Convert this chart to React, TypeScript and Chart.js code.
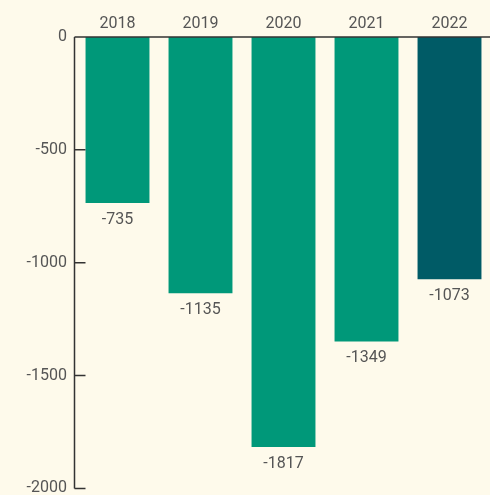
import React, { useEffect, useRef } from "react";
import { Chart, registerables } from "chart.js";

Chart.register(...registerables);

const categories = ["2018", "2019", "2020", "2021", "2022"];
const values = [-735, -1135, -1817, -1349, -1073];
const barColors = ["#009879", "#009879", "#009879", "#009879", "#005b66"];
const yTicks = [0, -500, -1000, -1500, -2000];

const BG = "#fefaeb";
const TEXT = "#555555";
const AXIS = "#333333";
const FONT = "Roboto, 'Liberation Sans', Arial, sans-serif";

export default function App() {
  const ref = useRef<HTMLCanvasElement | null>(null);
  useEffect(() => {
    document.body.style.margin = "0";
    document.body.style.background = BG;
    const canvas = ref.current!;
    const innerTicks = {
      id: "innerTicks",
      afterDatasetsDraw(chart: any) {
        const ctx = chart.ctx;
        const y = chart.scales.y;
        const area = chart.chartArea;
        ctx.save();
        const meta = chart.getDatasetMeta(0);
        ctx.font = `16px ${FONT}`;
        ctx.fillStyle = TEXT;
        ctx.textAlign = "center";
        ctx.textBaseline = "top";
        meta.data.forEach((bar: any, i: number) => {
          ctx.fillText(String(values[i]), bar.x, bar.y + 9);
        });
        const ax = area.left - 1.5;
        ctx.strokeStyle = AXIS;
        ctx.lineWidth = 1.5;
        ctx.beginPath();
        ctx.moveTo(ax, area.top);
        ctx.lineTo(ax, area.bottom);
        ctx.moveTo(ax, area.top);
        ctx.lineTo(chart.width, area.top);
        yTicks.forEach((t) => {
          const py = y.getPixelForValue(t);
          ctx.moveTo(ax, py);
          ctx.lineTo(ax + 11, py);
        });
        ctx.stroke();
        ctx.restore();
      },
    };
    const chart = new Chart(canvas, {
      type: "bar",
      data: {
        labels: categories,
        datasets: [
          {
            data: values,
            backgroundColor: barColors,
            borderWidth: 0,
            barPercentage: 0.77,
            categoryPercentage: 1,
          },
        ],
      },
      options: {
        animation: false,
        responsive: false,
        maintainAspectRatio: false,
        layout: { padding: { top: 0, bottom: 7, right: 0, left: 0 } },
        plugins: { legend: { display: false }, tooltip: { enabled: false } },
        scales: {
          x: {
            position: "top",
            grid: { display: false, drawTicks: false },
            border: { display: false },
            ticks: { color: TEXT, font: { size: 16, family: FONT }, padding: 3 },
            afterFit(scale: any) {
              scale.height = 37;
            },
          },
          y: {
            min: -2000,
            max: 0,
            grid: { display: false, drawTicks: false },
            border: { display: false },
            ticks: {
              stepSize: 500,
              color: TEXT,
              font: { size: 16, family: FONT },
              padding: 9,
              callback: (v: any) => String(v),
            },
            afterFit(scale: any) {
              scale.width = 76;
            },
          },
        },
      },
      plugins: [innerTicks],
    });
    return () => chart.destroy();
  }, []);
  return (
    <div style={{ position: "absolute", left: 0, top: 0, width: 490, height: 495, overflow: "hidden", background: BG }}>
      <canvas ref={ref} width={491} height={507} style={{ display: "block" }} />
    </div>
  );
}
